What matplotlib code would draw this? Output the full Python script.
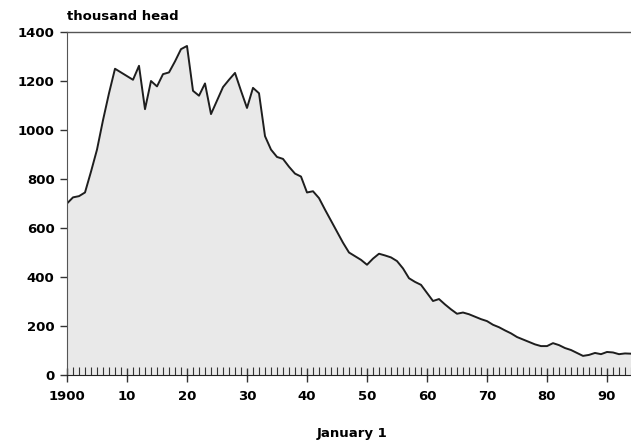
import matplotlib
matplotlib.use("Agg")
from matplotlib import pyplot as plt
from matplotlib.ticker import MultipleLocator

years = list(range(1900, 1995))
head = [700, 725, 730, 745, 830, 920, 1040, 1150, 1250, 1235,
        1220, 1205, 1262, 1085, 1200, 1178, 1228, 1235, 1280, 1330,
        1343, 1160, 1140, 1190, 1065, 1120, 1175, 1205, 1233, 1160,
        1090, 1172, 1150, 975, 920, 890, 882, 850, 822, 810,
        745, 750, 722, 675, 630, 585, 540, 500, 485, 470,
        450, 475, 495, 488, 480, 465, 435, 395, 380, 368,
        335, 302, 310, 288, 268, 250, 255, 248, 238, 228,
        220, 205, 195, 182, 170, 155, 145, 135, 125, 118,
        118, 130, 122, 110, 102, 90, 78, 82, 90, 85,
        94, 92, 85, 88, 87]

x_ticks = [1900, 1910, 1920, 1930, 1940, 1950, 1960, 1970, 1980, 1990]
x_labels = ["1900", "10", "20", "30", "40", "50", "60", "70", "80", "90"]
y_ticks = [0, 200, 400, 600, 800, 1000, 1200, 1400]

font = {"family": "DejaVu Sans", "weight": "bold", "size": 9.5}

fig = plt.figure(figsize=(6.31, 4.42), dpi=100)
ax = fig.add_axes([67 / 631, 1 - 375 / 442, 1 - 67 / 631, (375 - 32) / 442])

ax.fill_between(years, head, 0, color="#e9e9e9", lw=0)
ax.plot(years, head, color="#1e1e1e", lw=1.4)

ax.set_xlim(1900, 1994)
ax.set_ylim(0, 1400)

ax.spines["right"].set_visible(False)
ax.spines["top"].set_color("#555555")
ax.spines["top"].set_linewidth(1.0)
ax.spines["left"].set_color("#555555")
ax.spines["bottom"].set_color("#222222")

ax.set_xticks(x_ticks)
ax.set_xticklabels(x_labels, **font)
ax.xaxis.set_minor_locator(MultipleLocator(1))
ax.tick_params(axis="x", which="major", direction="inout", length=10, width=1, color="#333333", pad=6)
ax.tick_params(axis="x", which="minor", direction="in", length=6, width=0.8, color="#333333")

ax.set_yticks(y_ticks)
ax.set_yticklabels([str(v) for v in y_ticks], **font)
ax.tick_params(axis="y", direction="out", length=5, width=1, color="#333333", pad=4)

fig.text(67 / 631, 1 - 17 / 442, "thousand head", ha="left", va="center", **font)
fig.text(352 / 631, 1 - 433 / 442, "January 1", ha="center", va="center", **font)

fig.savefig("out.png", dpi=100)
